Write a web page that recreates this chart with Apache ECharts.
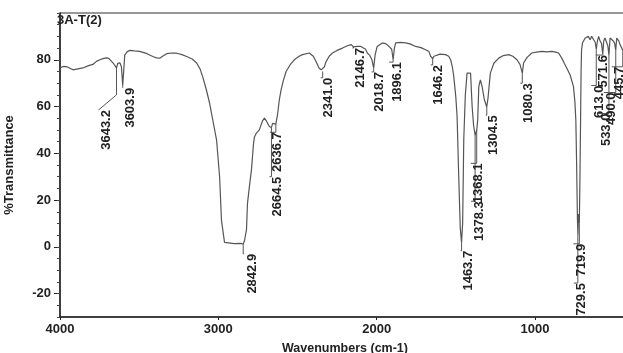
<!DOCTYPE html>
<html>
<head>
<meta charset="utf-8">
<script src="https://cdn.jsdelivr.net/npm/echarts@6/dist/echarts.min.js"></script>
<style>
  html, body { margin: 0; padding: 0; background: #fff; }
  #irChart { width: 623px; height: 353px; }
</style>
</head>
<body>
<div id="irChart"></div>
<script>
// spectrum trace, wavenumber (cm-1) and %T
var wavenumbers = [4000, 3975, 3956, 3918, 3880, 3855, 3820, 3792, 3770, 3748, 3725, 3704, 3690, 3673, 3660, 3650, 3643, 3635, 3622, 3612, 3604, 3597, 3591, 3575, 3559, 3530, 3496, 3450, 3414, 3390, 3370, 3345, 3326, 3295, 3263, 3230, 3200, 3165, 3137, 3115, 3099, 3077, 3055, 3033, 3011, 2992, 2980, 2961, 2950, 2900, 2860, 2843, 2835, 2822, 2816, 2800, 2791, 2778, 2772, 2761, 2741, 2720, 2709, 2698, 2678, 2665, 2657, 2645, 2637, 2625, 2615, 2604, 2590, 2572, 2545, 2520, 2490, 2468, 2426, 2400, 2383, 2363, 2350, 2341, 2330, 2321, 2300, 2279, 2250, 2216, 2185, 2160, 2147, 2135, 2122, 2100, 2070, 2059, 2045, 2030, 2019, 2010, 1997, 1964, 1940, 1922, 1905, 1896, 1888, 1880, 1850, 1817, 1790, 1754, 1720, 1691, 1670, 1659, 1646, 1638, 1628, 1600, 1565, 1545, 1533, 1522, 1513, 1500, 1492, 1481, 1472, 1464, 1457, 1450, 1440, 1429, 1418, 1407, 1397, 1388, 1378, 1368, 1362, 1355, 1345, 1334, 1320, 1305, 1297, 1282, 1260, 1229, 1200, 1166, 1140, 1114, 1095, 1080, 1072, 1050, 1020, 990, 957, 925, 894, 870, 851, 831, 815, 799, 778, 757, 748, 742, 737, 732, 729, 725, 720, 716, 712, 709, 706, 700, 683, 663, 652, 642, 630, 620, 613, 606, 598, 589, 580, 572, 566, 558, 547, 540, 533, 526, 515, 505, 497, 490, 484, 470, 463, 445, 430, 410, 400];
var transmittance = [76.6, 77.2, 77, 75.7, 76.2, 76.5, 77.5, 78, 79.3, 80, 80.6, 80.8, 80.5, 79.2, 78.2, 78.4, 76.5, 78.5, 78.7, 77, 69, 76, 82, 83.5, 84, 83.8, 83.6, 82.6, 81.4, 80.8, 80.7, 81.8, 82.6, 82.9, 82.8, 82.2, 81.4, 80.3, 78.6, 76, 72.8, 67.5, 61.4, 53.5, 45.6, 30, 11.2, 1.9, 1.4, 1.4, 1.5, 1.2, 2.5, 7.5, 18.5, 28, 32.7, 44, 47, 48.5, 50, 54, 55, 54, 51.5, 51, 52.8, 53, 52.5, 57, 62.8, 67, 71, 75, 78, 80, 81.5, 82.2, 82.9, 81.5, 79.3, 76.4, 75.7, 75, 77, 79, 81.5, 82.9, 84, 85, 86, 86.5, 85.5, 86.3, 85.7, 85.7, 84.5, 82.9, 82, 80, 76.4, 82, 85.7, 87.2, 86.8, 85.7, 84.5, 80, 85, 87.2, 87.4, 87.2, 86.8, 85.7, 85.2, 84.3, 83.5, 81.5, 80.5, 81.5, 82.2, 82.4, 82.2, 81.5, 80, 77, 72.8, 64, 55.6, 28.4, 8, 1.8, 10, 45.6, 65, 74.3, 75, 74.3, 60, 52, 47.7, 50, 54, 68.5, 71.4, 68.5, 63, 59.8, 63.5, 74.3, 78.5, 80.7, 81.8, 82.2, 81.5, 80, 78, 74.3, 78.6, 81, 82.9, 83.3, 83.6, 83.4, 83.6, 83.3, 82.9, 80.7, 78.5, 76.4, 73.5, 68.5, 62, 54, 35, 12, 5, 14, 10, 30, 55, 75, 84.3, 87.2, 89.3, 90, 88.6, 90, 89.5, 87.5, 84.5, 88, 90, 88, 87, 82.5, 88, 89.3, 88.6, 86, 82, 89.3, 88.5, 88, 87, 84, 89.3, 88, 86.5, 84, 86, 86, 86];

// peak picks printed on the spectrum
var peakWn = [3643.2, 3603.9, 2842.9, 2664.5, 2636.7, 2341.0, 2146.7, 2018.7, 1896.1, 1646.2, 1463.7, 1378.3, 1368.1, 1304.5, 1080.3, 729.5, 719.9, 613.0, 571.6, 533.0, 490.0, 445.7];
var peakText = ['3643.2', '3603.9', '2842.9', '2664.5', '2636.7', '2341.0', '2146.7', '2018.7', '1896.1', '1646.2', '1463.7', '1378.3', '1368.1', '1304.5', '1080.3', '729.5', '719.9', '613.0', '571.6', '533.0', '490.0', '445.7'];
var peakT = [76.5, 69, 1.2, 51, 52.5, 75, 85.5, 76.4, 80, 80.5, 1.8, 47.7, 50, 59.8, 74.3, 5, 10, 84.5, 82.5, 82, 84, 84];

var xTicks = [1000, 2000, 3000, 4000];
var yTicks = [-20, 0, 20, 40, 60, 80];

// where each printed label starts (in %T), leader bend and sideways shift in px
var labelTop = [58.5, 68, -3, 30, 49, 72.3, 85, 74.8, 79, 77.8, -1.7, 19.5, 35.7, 56.3, 70, -15.5, 1.3, 69, 82, 57, 66, 77];
var leaderBend = [65, 68, -3, 30, 49, 72.3, 85, 74.8, 79, 77.8, -1.7, 19.5, 35.7, 56.3, 70, -15.5, 1.3, 69, 82, 57, 66, 77];
var labelShift = [-10, 8, 9, 6, 2, 6, 7, 6, 4, 6, 7, 4, 2, 7, 6, 4, 2, 3, 1, -3, -4, -3];

var FONT = '"Liberation Sans", Arial, sans-serif';

var spectrum = wavenumbers.map(function (w, i) { return [w, transmittance[i]]; });
var peaks = peakWn.map(function (w, i) {
  return [w, peakT[i], leaderBend[i], labelTop[i], labelShift[i], i];
});

var chart = echarts.init(document.getElementById('irChart'), null, { renderer: 'canvas' });

chart.setOption({
  animation: false,
  backgroundColor: '#fff',
  title: {
    text: '3A-T(2)',
    left: 57,
    top: 14,
    padding: 0,
    textStyle: { fontFamily: FONT, fontSize: 13, fontWeight: 'bold', color: '#222' }
  },
  grid: {
    left: 60,
    top: 13,
    right: -7,
    bottom: 36,
    outerBoundsMode: 'none',
    containLabel: false,
    show: true,
    borderColor: '#333',
    borderWidth: 1
  },
  xAxis: {
    type: 'value',
    inverse: true,
    min: 400,
    max: 4000,
    name: 'Wavenumbers (cm-1)',
    nameLocation: 'middle',
    nameGap: 25,
    nameTextStyle: { fontFamily: FONT, fontSize: 12.5, fontWeight: 'bold', color: '#222' },
    axisLine: { onZero: false, lineStyle: { color: '#222', width: 1.5 } },
    axisTick: { length: 3, customValues: xTicks, lineStyle: { color: '#222' } },
    axisLabel: {
      customValues: xTicks,
      formatter: function (v) { return String(v); },
      margin: 6,
      fontFamily: FONT, fontSize: 13, fontWeight: 'bold', color: '#222'
    },
    splitLine: { show: false }
  },
  yAxis: [{
    type: 'value',
    min: -30,
    max: 100,
    name: '%Transmittance',
    nameLocation: 'middle',
    nameRotate: 90,
    nameGap: 44,
    nameTextStyle: { fontFamily: FONT, fontSize: 13, fontWeight: 'bold', color: '#222' },
    axisLine: { show: true, onZero: false, lineStyle: { color: '#222', width: 1.5 } },
    axisTick: { show: true, length: 6, customValues: yTicks, lineStyle: { color: '#222' } },
    axisLabel: {
      customValues: yTicks,
      margin: 9,
      fontFamily: FONT, fontSize: 13, fontWeight: 'bold', color: '#222'
    },
    splitLine: { show: false }
  }, {
    // minor ticks every 5 %T
    type: 'value',
    min: -30,
    max: 100,
    interval: 5,
    position: 'left',
    axisLine: { show: false },
    axisTick: { show: true, length: 3, lineStyle: { color: '#444' } },
    axisLabel: { show: false },
    splitLine: { show: false }
  }],
  series: [{
    type: 'line',
    data: spectrum,
    showSymbol: false,
    smooth: false,
    lineStyle: { color: '#555', width: 1.2 }
  }, {
    type: 'custom',
    clip: false,
    data: peaks,
    renderItem: function (params, api) {
      var w = api.value(0);
      var dip = api.coord([w, api.value(1)]);
      var bend = api.coord([w, api.value(2)]);
      var top = api.coord([w, api.value(3)]);
      var dx = api.value(4);
      var txt = peakText[api.value(5)];
      return {
        type: 'group',
        children: [{
          type: 'polyline',
          shape: { points: [dip, bend, [dip[0] + dx - 8, top[1]]] },
          style: { stroke: '#555', lineWidth: 1, fill: null }
        }, {
          type: 'text',
          x: dip[0] + dx,
          y: top[1],
          rotation: Math.PI / 2,
          style: {
            text: txt,
            align: 'right',
            verticalAlign: 'middle',
            font: 'bold 13px ' + FONT,
            fill: '#222'
          }
        }]
      };
    }
  }]
});
</script>
</body>
</html>
